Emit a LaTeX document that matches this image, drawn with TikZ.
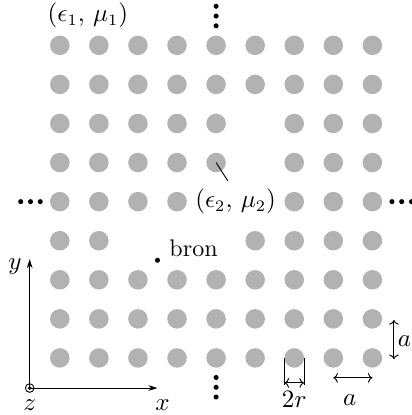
\documentclass[tikz,border=0pt]{standalone}
\usepackage{amsmath,amssymb}
\usetikzlibrary{arrows.meta,calc}
\tikzset{>={Stealth[length=4pt,width=2.5pt]},every node/.style={font=\fontsize{10.5}{12}\selectfont},rod/.style={circle,fill=gray!60,inner sep=0pt,minimum size=3mm},dim/.style={thin,{To[length=2pt]}-{To[length=2pt]}}}

\begin{document}
\begin{tikzpicture}[scale=.6]
\useasboundingbox (-1.53,-1.46) rectangle (9.0,9.16);
\foreach \j/\cols in {0/{0,...,8},1/{0,...,8},2/{0,...,8},3/{0,1,5,6,7,8},4/{0,1,2,3,6,7,8},5/{0,1,2,3,4,6,7,8},6/{0,1,2,3,4,6,7,8},7/{0,...,8},8/{0,...,8}}
  \foreach \i in \cols {\node[rod] (c-\i-\j) at (\i,\j) {};}
\foreach \t in {0.5,0.75,1} {\fill (4,8+\t) circle(.065);\fill (4,-\t) circle(.065);\fill (-\t,4) circle(.065);\fill (8+\t,4) circle(.065);}
\node (eps1) at (0.72,8.77) {$(\epsilon_1,\,\mu_1)$};
\node (eps2) at (4.5,4.0) {$(\epsilon_2,\,\mu_2)$};\coordinate (tip) at (4.3,4.53);\draw (c-4-5.center) -- (tip);
\fill (2.5,2.5) circle(.065) coordinate (src);\node[anchor=west] (bron) at (2.6,2.8) {bron};
% assen
\coordinate (O) at (-0.77,-0.77);\coordinate (yend) at (-0.77,2.53);\coordinate (xend) at (2.5,-0.77);
\draw[->] (O) -- (yend);\draw[->] (O) -- (xend);\draw (O) circle(.11);\fill (O) circle(.05);
\node (ylab) at (-1.15,2.33) {$y$};\node (xlab) at (2.63,-1.2) {$x$};\node (zlab) at (-0.77,-1.2) {$z$};
% maten
\draw (5.75,0) -- (5.75,-0.69);\draw (6.25,0) -- (6.25,-0.69);\draw[dim] (5.75,-0.64) -- (6.25,-0.64);\node (twor) at (6,-1.07) {$2r$};
\draw[dim] (7,-0.51) -- (8,-0.51);\node (ah) at (7.42,-1.07) {$a$};
\draw[dim] (8.55,-0.03) -- (8.55,0.97);\node (av) at (8.82,0.43) {$a$};
\end{tikzpicture}
\end{document}
